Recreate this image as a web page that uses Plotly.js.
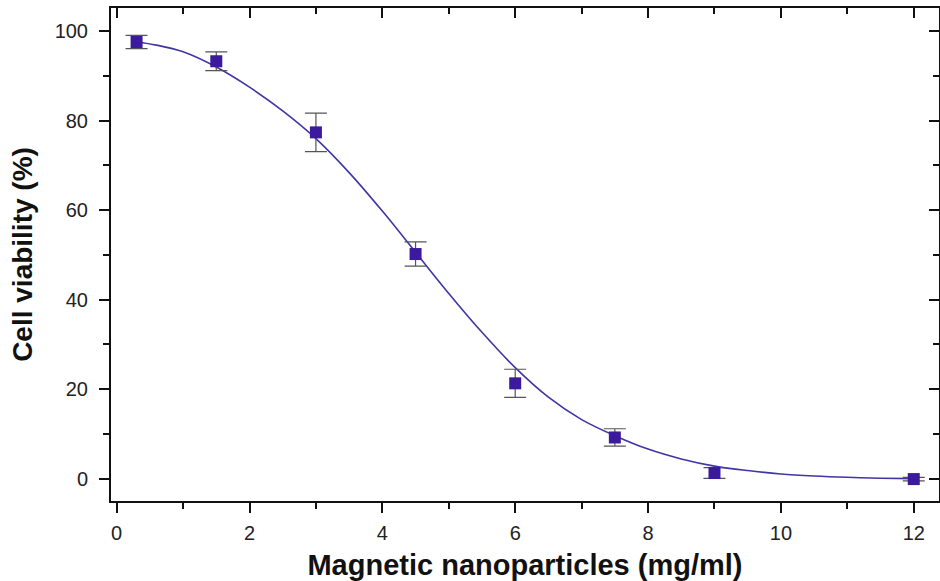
<!DOCTYPE html>
<html>
<head>
<meta charset="utf-8">
<script src="https://cdn.plot.ly/plotly-3.0.1.min.js"></script>
<style>html,body{margin:0;padding:0;background:#fff;}#chart{width:940px;height:581px;}</style>
</head>
<body>
<div id="chart"></div>
<script>
// Measured data points
var concentration = [0.3, 1.5, 3.0, 4.5, 6.0, 7.5, 9.0, 12.0];
var viability = [97.6, 93.3, 77.4, 50.2, 21.3, 9.2, 1.25, -0.1];
var viabilityErr = [1.5, 2.1, 4.3, 2.7, 3.15, 1.95, 1.2, 0.4];

// Fitted curve
var fitX = [0.3, 0.6, 1.0, 1.5, 2.0, 2.5, 3.0, 3.5, 4.0, 4.5, 5.0, 5.5, 6.0, 6.5, 7.0, 7.5, 8.0, 8.5, 9.0, 9.5, 10.0, 10.5, 11.0, 11.5, 12.0];
var fitY = [97.6, 96.9, 95.4, 92.0, 87.5, 82.2, 76.0, 68.4, 59.8, 50.6, 41.4, 32.7, 24.8, 18.2, 13.2, 9.6, 6.6, 4.4, 2.8, 1.8, 1.05, 0.6, 0.3, 0.1, 0.0];

var xTickVals = [0, 2, 4, 6, 8, 10, 12];
var yTickVals = [0, 20, 40, 60, 80, 100];

var xRange = [-0.085, 12.38];
var yRange = [-5.0, 105.2];

var fontFam = 'Liberation Sans, Arial, sans-serif';

var traces = [
  {
    x: fitX, y: fitY, type: 'scatter', mode: 'lines',
    line: {color: '#3f36a6', width: 1.6, shape: 'spline', smoothing: 1.0},
    hoverinfo: 'skip', showlegend: false
  },
  {
    x: concentration, y: viability, type: 'scatter', mode: 'markers',
    marker: {symbol: 'square', size: 12, color: '#3c1a9e'},
    error_y: {type: 'data', array: viabilityErr, visible: true, color: '#555555', thickness: 1.2, width: 11},
    showlegend: false
  },
  {
    x: [null], y: [null], xaxis: 'x2', yaxis: 'y2', type: 'scatter', mode: 'markers',
    showlegend: false, hoverinfo: 'skip'
  }
];

var layout = {
  width: 940, height: 581,
  margin: {l: 111, r: 1, t: 8, b: 80},
  paper_bgcolor: '#ffffff', plot_bgcolor: '#ffffff',
  font: {family: fontFam, color: '#111111'},
  xaxis: {
    range: xRange, tickvals: xTickVals, ticks: 'outside', ticklen: 10, tickwidth: 2, tickcolor: '#111',
    showline: true, linewidth: 2, linecolor: '#111', mirror: true,
    showgrid: false, zeroline: false, ticklabelstandoff: 3,
    tickfont: {size: 20, family: fontFam, color: '#222'},
    minor: {dtick: 1, tick0: 0, ticks: 'outside', ticklen: 6, tickwidth: 2, tickcolor: '#111', showgrid: false},
    title: {text: '<b>Magnetic nanoparticles (mg/ml)</b>', font: {size: 29, family: fontFam, color: '#111'}, standoff: 12}
  },
  yaxis: {
    range: yRange, tickvals: yTickVals, ticks: 'outside', ticklen: 10, tickwidth: 2, tickcolor: '#111',
    showline: true, linewidth: 2, linecolor: '#111', mirror: true,
    showgrid: false, zeroline: false, ticklabelstandoff: 7,
    tickfont: {size: 20, family: fontFam, color: '#222'},
    minor: {dtick: 10, tick0: 0, ticks: 'outside', ticklen: 6, tickwidth: 2, tickcolor: '#111', showgrid: false},
    title: {text: '<b>Cell viability (%)</b>', font: {size: 28, family: fontFam, color: '#111'}, standoff: 14}
  },
  xaxis2: {
    overlaying: 'x', side: 'top', range: xRange, tickvals: xTickVals, ticks: 'inside', ticklen: 10, tickwidth: 2, tickcolor: '#111',
    showticklabels: false, showline: false, showgrid: false, zeroline: false,
    minor: {dtick: 1, tick0: 0, ticks: 'inside', ticklen: 6, tickwidth: 2, tickcolor: '#111', showgrid: false}
  },
  yaxis2: {
    overlaying: 'y', side: 'right', range: yRange, tickvals: yTickVals, ticks: 'inside', ticklen: 10, tickwidth: 2, tickcolor: '#111',
    showticklabels: false, showline: false, showgrid: false, zeroline: false,
    minor: {dtick: 10, tick0: 0, ticks: 'inside', ticklen: 6, tickwidth: 2, tickcolor: '#111', showgrid: false}
  }
};

Plotly.newPlot('chart', traces, layout, {displayModeBar: false, staticPlot: true});
</script>
</body>
</html>
